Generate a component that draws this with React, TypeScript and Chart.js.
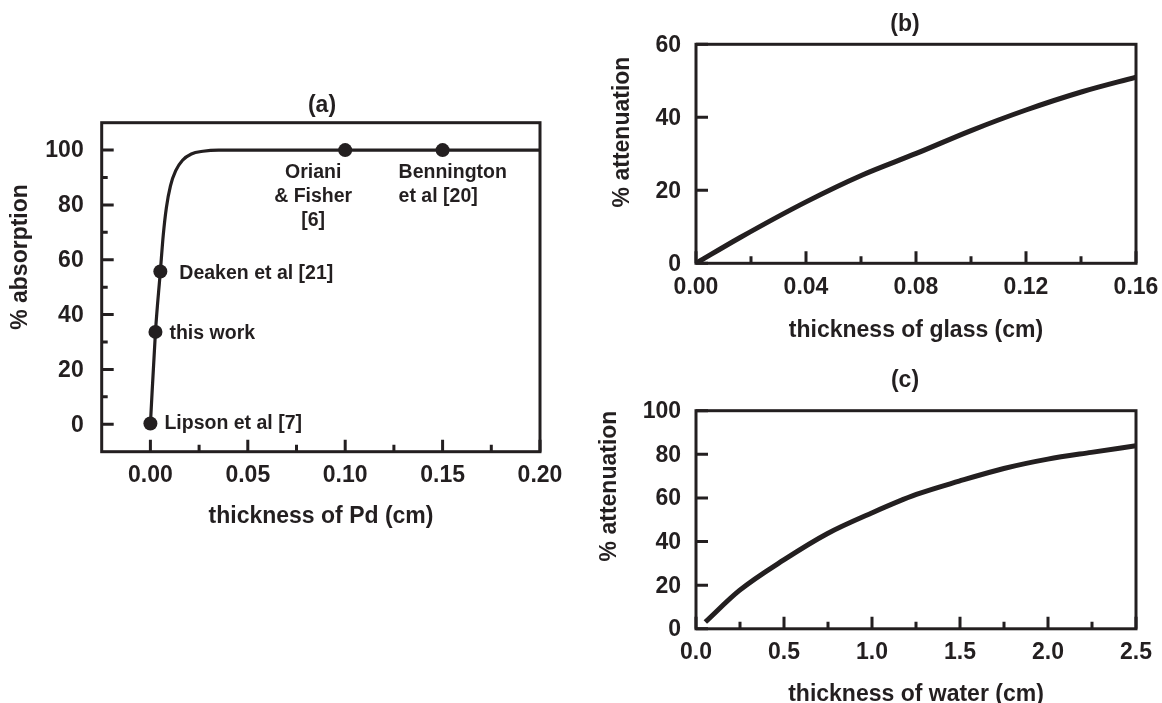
import React, { useEffect, useRef } from "react";
import { Chart, registerables } from "chart.js";

Chart.register(...registerables);

// ---------- DATA ----------
// (a) Pd absorption curve
const pdThickness = [0, 0.0026, 0.0051, 0.0066, 0.0082, 0.0103, 0.013, 0.0165, 0.021, 0.027, 0.035, 0.05, 0.1, 0.15, 0.2];
const pdAbsorption = [0, 33.7, 55.7, 69, 79, 87, 92.5, 96.3, 98.6, 99.6, 100, 100, 100, 100, 100];
// (a) literature markers
const pdMarkerThickness = [0, 0.0026, 0.0051, 0.1, 0.15];
const pdMarkerAbsorption = [0.3, 33.7, 55.7, 100, 100];
const pdMarkerLabels = ["Lipson et al [7]", "this work", "Deaken et al [21]", "Oriani\n& Fisher\n[6]", "Bennington\net al [20]"];
// (b) glass attenuation
const glassThickness = [0, 0.0159, 0.0402, 0.0605, 0.0801, 0.0998, 0.12, 0.1404, 0.16];
const glassAttenuation = [0, 7.0, 16.9, 24.2, 30.1, 36.3, 42.0, 47.0, 51.0];
// (c) water attenuation
const waterThickness = [0.053, 0.247, 0.501, 0.745, 0.998, 1.252, 1.495, 1.749, 1.999, 2.246, 2.5];
const waterAttenuation = [3.1, 17.6, 31.7, 43.6, 53.1, 61.6, 67.7, 73.5, 77.8, 80.9, 83.9];

// tick labels
const pdXTickLabels = ["0.00", "0.05", "0.10", "0.15", "0.20"];
const pdYTickLabels = ["0", "20", "40", "60", "80", "100"];
const pdXMinorTicks = [0.025, 0.075, 0.125, 0.175];
const pdYMinorTicks = [10, 30, 50, 70, 90];
const glassXTickLabels = ["0.00", "0.04", "0.08", "0.12", "0.16"];
const glassYTickLabels = ["0", "20", "40", "60"];
const glassXMinorTicks = [0.02, 0.06, 0.1, 0.14];
const waterXTickLabels = ["0.0", "0.5", "1.0", "1.5", "2.0", "2.5"];
const waterYTickLabels = ["0", "20", "40", "60", "80", "100"];
const waterXMinorTicks = [0.25, 0.75, 1.25, 1.75, 2.25];

// ---------- STYLE / LAYOUT ----------
const W = 1162;
const H = 703;
const INK = "#231f20";
const FONT = "'Liberation Sans', Arial, Helvetica, sans-serif";
const TICK_FONT = `bold 23px ${FONT}`;
const ANNOT_FONT = `bold 19.5px ${FONT}`;

// label placement offsets (pixels relative to marker) for panel (a)
const pdLabelLayout = [
  { dx: 14, dy: 0, align: "left" },
  { dx: 14, dy: 1.5, align: "left" },
  { dx: 19, dy: 2, align: "left" },
  { dx: -32, dy: 22.6, align: "center" },
  { dx: -44, dy: 22.6, align: "left" },
];

type Panel = {
  id: string;
  area: { left: number; top: number; right: number; bottom: number };
  xRange: [number, number];
  yRange: [number, number];
  xLabels: string[];
  yLabels: string[];
  xMinor: number[];
  yMinor: number[];
  yLabelGap: number;
  title: string;
  titlePos: [number, number];
  xTitle: string;
  xTitlePos: [number, number];
  yTitle: string;
  yTitlePos: [number, number];
  datasets: any[];
  annotate?: boolean;
};

const toXY = (xs: number[], ys: number[]) => xs.map((x, i) => ({ x, y: ys[i] }));

const curve = (xs: number[], ys: number[], width: number) => ({
  data: toXY(xs, ys),
  showLine: true,
  borderColor: INK,
  backgroundColor: INK,
  borderWidth: width,
  pointRadius: 0,
  cubicInterpolationMode: "monotone",
  fill: false,
});

const panels: Panel[] = [
  {
    id: "a",
    area: { left: 101.7, top: 122.7, right: 540, bottom: 451.7 },
    xRange: [-0.025, 0.2],
    yRange: [-10, 110],
    xLabels: pdXTickLabels,
    yLabels: pdYTickLabels,
    xMinor: pdXMinorTicks,
    yMinor: pdYMinorTicks,
    yLabelGap: 18,
    title: "(a)",
    titlePos: [322, 106],
    xTitle: "thickness of Pd (cm)",
    xTitlePos: [321, 523],
    yTitle: "% absorption",
    yTitlePos: [21, 257],
    datasets: [
      {
        data: toXY(pdMarkerThickness, pdMarkerAbsorption),
        showLine: false,
        pointRadius: 7,
        pointBackgroundColor: INK,
        pointBorderWidth: 0,
        borderColor: INK,
      },
      curve(pdThickness, pdAbsorption, 3.2),
    ],
    annotate: true,
  },
  {
    id: "b",
    area: { left: 696, top: 44.3, right: 1136, bottom: 263.3 },
    xRange: [0, 0.16],
    yRange: [0, 60],
    xLabels: glassXTickLabels,
    yLabels: glassYTickLabels,
    xMinor: glassXMinorTicks,
    yMinor: [],
    yLabelGap: 15,
    title: "(b)",
    titlePos: [905, 24.5],
    xTitle: "thickness of glass (cm)",
    xTitlePos: [916, 336.7],
    yTitle: "% attenuation",
    yTitlePos: [623, 132],
    datasets: [curve(glassThickness, glassAttenuation, 5)],
  },
  {
    id: "c",
    area: { left: 696, top: 410.7, right: 1136, bottom: 628.8 },
    xRange: [0, 2.5],
    yRange: [0, 100],
    xLabels: waterXTickLabels,
    yLabels: waterYTickLabels,
    xMinor: waterXMinorTicks,
    yMinor: [],
    yLabelGap: 15,
    title: "(c)",
    titlePos: [905, 381],
    xTitle: "thickness of water (cm)",
    xTitlePos: [916, 701],
    yTitle: "% attenuation",
    yTitlePos: [610, 486],
    datasets: [curve(waterThickness, waterAttenuation, 5)],
  },
];

const MAJOR_LEN = 12;
const MINOR_LEN = 7;

const makePanelPlugin = (p: Panel) => ({
  id: "panelDecor_" + p.id,
  afterDatasetsDraw(chart: any) {
    const ctx: CanvasRenderingContext2D = chart.ctx;
    const a = chart.chartArea;
    const xs = chart.scales.x;
    const ys = chart.scales.y;
    ctx.save();
    ctx.strokeStyle = INK;
    ctx.fillStyle = INK;
    ctx.lineWidth = 3;
    ctx.lineCap = "butt";

    // inward ticks
    ctx.beginPath();
    p.xLabels.forEach((l) => {
      const px = xs.getPixelForValue(parseFloat(l));
      ctx.moveTo(px, a.bottom);
      ctx.lineTo(px, a.bottom - MAJOR_LEN);
    });
    p.xMinor.forEach((v) => {
      const px = xs.getPixelForValue(v);
      ctx.moveTo(px, a.bottom);
      ctx.lineTo(px, a.bottom - MINOR_LEN);
    });
    p.yLabels.forEach((l) => {
      const py = ys.getPixelForValue(parseFloat(l));
      ctx.moveTo(a.left, py);
      ctx.lineTo(a.left + MAJOR_LEN, py);
    });
    p.yMinor.forEach((v) => {
      const py = ys.getPixelForValue(v);
      ctx.moveTo(a.left, py);
      ctx.lineTo(a.left + MINOR_LEN - 1, py);
    });
    ctx.stroke();

    // frame
    ctx.lineJoin = "miter";
    ctx.strokeRect(a.left, a.top, a.right - a.left, a.bottom - a.top);

    // tick labels
    ctx.font = TICK_FONT;
    ctx.textBaseline = "middle";
    ctx.textAlign = "center";
    p.xLabels.forEach((l) => {
      const px = xs.getPixelForValue(parseFloat(l));
      ctx.fillText(l, px, a.bottom + 24);
    });
    ctx.textAlign = "right";
    p.yLabels.forEach((l) => {
      const py = ys.getPixelForValue(parseFloat(l));
      ctx.fillText(l, a.left - p.yLabelGap, py + 1);
    });

    // panel title
    ctx.textAlign = "center";
    ctx.fillText(p.title, p.titlePos[0], p.titlePos[1]);

    // x axis title
    ctx.textBaseline = "alphabetic";
    ctx.fillText(p.xTitle, p.xTitlePos[0], p.xTitlePos[1]);

    // y axis title
    ctx.save();
    ctx.translate(p.yTitlePos[0], p.yTitlePos[1]);
    ctx.rotate(-Math.PI / 2);
    ctx.textBaseline = "middle";
    ctx.textAlign = "center";
    ctx.fillText(p.yTitle, 0, 0);
    ctx.restore();

    // annotations for (a)
    if (p.annotate) {
      ctx.font = ANNOT_FONT;
      ctx.textBaseline = "middle";
      pdMarkerLabels.forEach((label, i) => {
        const lay = pdLabelLayout[i];
        const px = xs.getPixelForValue(pdMarkerThickness[i]) + lay.dx;
        const py = ys.getPixelForValue(pdMarkerAbsorption[i]) + lay.dy;
        ctx.textAlign = lay.align as CanvasTextAlign;
        label.split("\n").forEach((line, j) => {
          ctx.fillText(line, px, py + j * 24);
        });
      });
    }
    ctx.restore();
  },
});

function PanelChart({ panel }: { panel: Panel }) {
  const ref = useRef<HTMLCanvasElement | null>(null);
  useEffect(() => {
    if (!ref.current) return;
    const a = panel.area;
    const chart = new Chart(ref.current, {
      type: "scatter",
      data: { datasets: panel.datasets },
      options: {
        responsive: false,
        animation: false,
        devicePixelRatio: 1,
        events: [],
        layout: {
          padding: { left: a.left, top: a.top, right: W - a.right, bottom: H - a.bottom },
        },
        scales: {
          x: { type: "linear", min: panel.xRange[0], max: panel.xRange[1], display: false },
          y: { type: "linear", min: panel.yRange[0], max: panel.yRange[1], display: false },
        },
        plugins: {
          legend: { display: false },
          tooltip: { enabled: false },
          title: { display: false },
        },
      } as any,
      plugins: [makePanelPlugin(panel)],
    });
    return () => chart.destroy();
  }, [panel]);
  return (
    <canvas
      ref={ref}
      width={W}
      height={H}
      style={{ position: "absolute", left: 0, top: 0, width: W, height: H }}
    />
  );
}

export default function App() {
  return (
    <div style={{ position: "absolute", left: 0, top: 0, width: W, height: H, background: "#ffffff" }}>
      {panels.map((p) => (
        <PanelChart key={p.id} panel={p} />
      ))}
    </div>
  );
}
